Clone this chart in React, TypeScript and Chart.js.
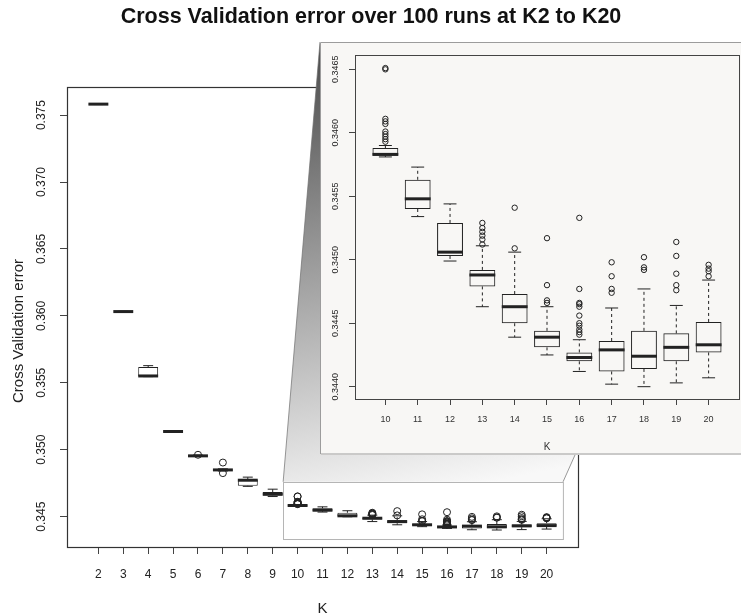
import React, { useEffect, useRef } from "react";
import { Chart, registerables } from "chart.js";

Chart.register(...registerables);

// ---------- data ----------
const kValues = [2, 3, 4, 5, 6, 7, 8, 9, 10, 11, 12, 13, 14, 15, 16, 17, 18, 19, 20];
const lowerWhisker = [0.37579, 0.3603, 0.35546, 0.35133, 0.34949, 0.34841, 0.34726, 0.3465, 0.34581, 0.34534, 0.34499, 0.34463, 0.34439, 0.34425, 0.34412, 0.34402, 0.344, 0.34403, 0.34407];
const q1 = [0.3758, 0.36031, 0.35549, 0.35134, 0.34951, 0.34845, 0.3473, 0.34655, 0.34582, 0.3454, 0.34503, 0.34479, 0.3445, 0.34431, 0.3442, 0.34412, 0.34414, 0.3442, 0.34427];
const median = [0.37582, 0.36032, 0.35551, 0.35136, 0.34954, 0.34849, 0.34772, 0.34668, 0.34583, 0.34548, 0.34506, 0.34488, 0.34463, 0.34439, 0.34423, 0.34429, 0.34424, 0.34431, 0.34433];
const q3 = [0.37584, 0.36033, 0.35618, 0.35138, 0.34957, 0.34852, 0.34775, 0.34684, 0.34588, 0.34563, 0.34529, 0.34492, 0.34473, 0.34444, 0.34427, 0.34436, 0.34444, 0.34442, 0.34451];
const upperWhisker = [0.37585, 0.36034, 0.35628, 0.35139, 0.3496, 0.34857, 0.34795, 0.34705, 0.3459, 0.34573, 0.34544, 0.34511, 0.34506, 0.34463, 0.34437, 0.34462, 0.34477, 0.34464, 0.34484];
const outliers: number[][] = [
  [],
  [],
  [],
  [],
  [0.34962],
  [0.34904, 0.34825],
  [],
  [],
  [0.34651, 0.3465, 0.34611, 0.34609, 0.34607, 0.34601, 0.34599, 0.34597, 0.34595, 0.34593],
  [],
  [],
  [0.34529, 0.34525, 0.34522, 0.34519, 0.34516, 0.34512],
  [0.34541, 0.34509],
  [0.34517, 0.3448, 0.34468, 0.34466],
  [0.34533, 0.34477, 0.34466, 0.34465, 0.34463, 0.34456, 0.3445, 0.34448, 0.34445, 0.34443, 0.34441],
  [0.34498, 0.34487, 0.34477, 0.34474],
  [0.34502, 0.34494, 0.34492],
  [0.34514, 0.34503, 0.34489, 0.3448, 0.34476],
  [0.34496, 0.34493, 0.34491, 0.34487],
];
const mainYTicks = [0.345, 0.35, 0.355, 0.36, 0.365, 0.37, 0.375];
const insetYTicks = [0.344, 0.3445, 0.345, 0.3455, 0.346, 0.3465];
const insetKValues = kValues.filter((k) => k >= 10);
// zoomed region marked on the main panel (K range, error range)
const zoomRegionK = [9.42, 20.66];
const zoomRegionY = [0.34334, 0.3476];

const TITLE = "Cross Validation error over 100 runs at K2 to K20";
const FONT = '"Liberation Sans", Arial, Helvetica, sans-serif';

// ---------- layout constants ----------
const W = 741;
const H = 616;
const INSET = { left: 320, top: 42, width: 421, height: 413 };
const CONNECT_END_X = 575;

function boxDatasets(ks: number[], bg: string, radius: number) {
  const idx = ks.map((k) => kValues.indexOf(k));
  const pts: { x: number; y: number }[] = [];
  idx.forEach((i) => outliers[i].forEach((v) => pts.push({ x: kValues[i], y: v })));
  return [
    {
      type: "bar",
      data: idx.map((i) => ({ x: kValues[i], y: [q1[i], q3[i]] })),
      backgroundColor: bg,
      borderColor: "#222",
      borderWidth: 1,
      borderSkipped: false,
      barPercentage: 0.8,
      categoryPercentage: 1,
      order: 2,
    },
    {
      type: "scatter",
      data: pts,
      pointRadius: radius,
      pointBorderColor: "#222",
      pointBackgroundColor: "rgba(0,0,0,0)",
      pointBorderWidth: 1,
      order: 1,
    },
  ];
}

function drawBoxExtras(chart: any, ks: number[], dash: number[], medW: number) {
  const { ctx, chartArea } = chart;
  const x = chart.scales.x;
  const y = chart.scales.y;
  const unit = x.getPixelForValue(1) - x.getPixelForValue(0);
  const half = unit * 0.4;
  const line = (a: number, b: number, c: number, d: number) => {
    ctx.beginPath();
    ctx.moveTo(a, b);
    ctx.lineTo(c, d);
    ctx.stroke();
  };
  ctx.save();
  ctx.beginPath();
  ctx.rect(chartArea.left, chartArea.top, chartArea.right - chartArea.left, chartArea.bottom - chartArea.top);
  ctx.clip();
  ctx.strokeStyle = "#222";
  ks.forEach((k) => {
    const i = kValues.indexOf(k);
    const px = x.getPixelForValue(k);
    const yLw = y.getPixelForValue(lowerWhisker[i]);
    const yQ1 = y.getPixelForValue(q1[i]);
    const yMd = y.getPixelForValue(median[i]);
    const yQ3 = y.getPixelForValue(q3[i]);
    const yUw = y.getPixelForValue(upperWhisker[i]);
    ctx.lineWidth = 1;
    ctx.setLineDash(dash);
    line(px, yQ3, px, yUw);
    line(px, yQ1, px, yLw);
    ctx.setLineDash([]);
    line(px - half / 2, yUw, px + half / 2, yUw);
    line(px - half / 2, yLw, px + half / 2, yLw);
    ctx.lineWidth = medW;
    line(px - half, yMd, px + half, yMd);
  });
  ctx.restore();
}

function drawRotatedYLabels(chart: any, ticks: number[], xPos: number, size: number, digits: number) {
  const { ctx } = chart;
  const y = chart.scales.y;
  ctx.save();
  ctx.fillStyle = "#222";
  ctx.font = `${size}px ${FONT}`;
  ctx.textAlign = "center";
  ctx.textBaseline = "middle";
  ticks.forEach((v) => {
    const py = y.getPixelForValue(v);
    ctx.save();
    ctx.translate(xPos, py);
    ctx.rotate(-Math.PI / 2);
    ctx.fillText(v.toFixed(digits), 0, 0);
    ctx.restore();
  });
  ctx.restore();
}

const mainPlugin = {
  id: "mainDecor",
  beforeDatasetsDraw(chart: any) {
    const { ctx, chartArea } = chart;
    const x = chart.scales.x;
    const y = chart.scales.y;
    ctx.save();
    // frame
    ctx.strokeStyle = "#333";
    ctx.lineWidth = 1.2;
    ctx.strokeRect(chartArea.left + 0.5, chartArea.top + 0.5, chartArea.right - chartArea.left, chartArea.bottom - chartArea.top);
    // zoom connector
    const zl = x.getPixelForValue(zoomRegionK[0]);
    const zr = x.getPixelForValue(zoomRegionK[1]);
    const zt = y.getPixelForValue(zoomRegionY[1]);
    const zb = y.getPixelForValue(zoomRegionY[0]);
    const insetBottom = INSET.top + INSET.height;
    const g = ctx.createLinearGradient(310, INSET.top, 400, zt + 18);
    g.addColorStop(0, "#4a4a4a");
    g.addColorStop(1, "#f8f8f8");
    ctx.beginPath();
    ctx.moveTo(zl, zt);
    ctx.lineTo(INSET.left, INSET.top);
    ctx.lineTo(CONNECT_END_X, insetBottom);
    ctx.lineTo(zr, zt);
    ctx.closePath();
    ctx.fillStyle = g;
    ctx.fill();
    ctx.strokeStyle = "rgba(110,110,110,0.7)";
    ctx.lineWidth = 1;
    ctx.beginPath();
    ctx.moveTo(zl, zt);
    ctx.lineTo(INSET.left, INSET.top);
    ctx.moveTo(zr, zt);
    ctx.lineTo(CONNECT_END_X, insetBottom);
    ctx.stroke();
    // zoom rectangle
    ctx.strokeStyle = "#b5b5b5";
    ctx.lineWidth = 1;
    ctx.strokeRect(Math.round(zl) + 0.5, Math.round(zt) + 0.5, zr - zl, zb - zt);
    ctx.restore();
  },
  afterDatasetsDraw(chart: any) {
    drawBoxExtras(chart, kValues, [3, 3], 3);
  },
  afterDraw(chart: any) {
    const { ctx } = chart;
    drawRotatedYLabels(chart, mainYTicks, 41.5, 12, 3);
    ctx.save();
    ctx.fillStyle = "#222";
    ctx.font = `15px ${FONT}`;
    ctx.textAlign = "center";
    ctx.textBaseline = "middle";
    ctx.translate(19, 331);
    ctx.rotate(-Math.PI / 2);
    ctx.fillText("Cross Validation error", 0, 0);
    ctx.restore();
    ctx.save();
    ctx.fillStyle = "#111";
    ctx.font = `bold 21.5px ${FONT}`;
    ctx.textAlign = "center";
    ctx.textBaseline = "middle";
    ctx.fillText(TITLE, 371, 17);
    ctx.restore();
  },
};

const insetPlugin = {
  id: "insetDecor",
  beforeDraw(chart: any) {
    const { ctx, width, height } = chart;
    ctx.save();
    ctx.fillStyle = "#f8f7f5";
    ctx.fillRect(0, 0, width, height);
    ctx.strokeStyle = "#9c9c9c";
    ctx.lineWidth = 1;
    ctx.beginPath();
    ctx.moveTo(width, 0.5);
    ctx.lineTo(0.5, 0.5);
    ctx.lineTo(0.5, height - 1);
    ctx.lineTo(width, height - 1);
    ctx.stroke();
    ctx.restore();
  },
  beforeDatasetsDraw(chart: any) {
    const { ctx, chartArea } = chart;
    ctx.save();
    ctx.strokeStyle = "#444";
    ctx.lineWidth = 1;
    ctx.strokeRect(Math.round(chartArea.left) + 0.5, Math.round(chartArea.top) + 0.5, chartArea.right - chartArea.left, chartArea.bottom - chartArea.top);
    ctx.restore();
  },
  afterDatasetsDraw(chart: any) {
    drawBoxExtras(chart, insetKValues, [3, 3], 3);
  },
  afterDraw(chart: any) {
    drawRotatedYLabels(chart, insetYTicks, 16, 9, 4);
  },
};

export default function App() {
  const mainRef = useRef<HTMLCanvasElement | null>(null);
  const insetRef = useRef<HTMLCanvasElement | null>(null);

  useEffect(() => {
    const main = new Chart(mainRef.current as HTMLCanvasElement, {
      type: "bar",
      data: { datasets: boxDatasets(kValues, "#ffffff", 3.5) as any },
      options: {
        responsive: false,
        animation: false,
        events: [],
        layout: { autoPadding: false, padding: { left: 0, top: 87, right: 163, bottom: 0 } },
        plugins: { legend: { display: false }, tooltip: { enabled: false }, title: { display: false } },
        scales: {
          x: {
            type: "linear",
            min: 0.74,
            max: 21.26,
            offset: false,
            afterBuildTicks: (s: any) => {
              s.ticks = kValues.map((v) => ({ value: v }));
            },
            afterFit: (s: any) => {
              s.height = 69;
              s.paddingLeft = 0;
              s.paddingRight = 0;
            },
            grid: { offset: false, drawOnChartArea: false, drawTicks: true, tickLength: 7, color: "#444", lineWidth: 1 },
            border: { display: false },
            ticks: {
              autoSkip: false,
              maxRotation: 0,
              minRotation: 0,
              padding: 13,
              color: "#222",
              font: { family: FONT, size: 12 },
              callback: (v: any) => String(v),
            },
            title: { display: true, text: "K", color: "#222", font: { family: FONT, size: 15, lineHeight: 1 }, padding: { top: 0, bottom: 0 } },
          },
          y: {
            type: "linear",
            min: 0.34273,
            max: 0.3771,
            afterBuildTicks: (s: any) => {
              s.ticks = mainYTicks.map((v) => ({ value: v }));
            },
            afterFit: (s: any) => {
              s.width = 67;
              s.paddingTop = 0;
              s.paddingBottom = 0;
            },
            grid: { drawOnChartArea: false, drawTicks: true, tickLength: 7, color: "#444" },
            border: { display: false },
            ticks: { display: false },
          },
        },
      } as any,
      plugins: [mainPlugin],
    });

    const inset = new Chart(insetRef.current as HTMLCanvasElement, {
      type: "bar",
      data: { datasets: boxDatasets(insetKValues, "rgba(0,0,0,0)", 2.7) as any },
      options: {
        responsive: false,
        animation: false,
        events: [],
        layout: { autoPadding: false, padding: { left: 0, top: 13, right: 2, bottom: 0 } },
        plugins: { legend: { display: false }, tooltip: { enabled: false }, title: { display: false } },
        scales: {
          x: {
            type: "linear",
            min: 9.06,
            max: 20.94,
            offset: false,
            afterBuildTicks: (s: any) => {
              s.ticks = insetKValues.map((v) => ({ value: v }));
            },
            afterFit: (s: any) => {
              s.height = 56;
              s.paddingLeft = 0;
              s.paddingRight = 0;
            },
            grid: { offset: false, drawOnChartArea: false, drawTicks: true, tickLength: 6, color: "#444", lineWidth: 1 },
            border: { display: false },
            ticks: {
              autoSkip: false,
              maxRotation: 0,
              minRotation: 0,
              padding: 9.6,
              color: "#333",
              font: { family: FONT, size: 9 },
              callback: (v: any) => String(v),
            },
            title: { display: true, text: "K", color: "#333", font: { family: FONT, size: 10, lineHeight: 1 }, padding: { top: 0, bottom: 3 } },
          },
          y: {
            type: "linear",
            min: 0.343903,
            max: 0.346613,
            afterBuildTicks: (s: any) => {
              s.ticks = insetYTicks.map((v) => ({ value: v }));
            },
            afterFit: (s: any) => {
              s.width = 35;
              s.paddingTop = 0;
              s.paddingBottom = 0;
            },
            grid: { drawOnChartArea: false, drawTicks: true, tickLength: 6, color: "#444" },
            border: { display: false },
            ticks: { display: false },
          },
        },
      } as any,
      plugins: [insetPlugin],
    });

    return () => {
      main.destroy();
      inset.destroy();
    };
  }, []);

  return (
    <div style={{ position: "absolute", left: 0, top: 0, width: W, height: H, background: "#fff" }}>
      <canvas ref={mainRef} width={W} height={H} style={{ position: "absolute", left: 0, top: 0, width: W, height: H }} />
      <canvas
        ref={insetRef}
        width={INSET.width}
        height={INSET.height}
        style={{ position: "absolute", left: INSET.left, top: INSET.top, width: INSET.width, height: INSET.height }}
      />
    </div>
  );
}
